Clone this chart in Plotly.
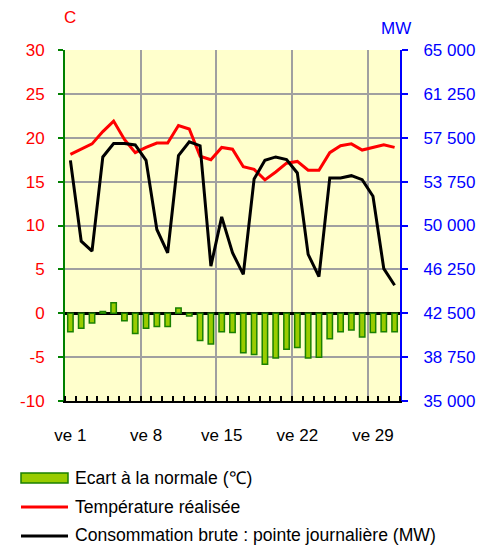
import plotly.graph_objects as go

# ---------------- data ----------------
days = list(range(1, 32))
ecart_normale = [-2.1, -1.7, -1.1, 0.2, 1.2, -0.85, -2.3, -1.7, -1.5, -1.5,
                 0.6, -0.3, -3.1, -3.5, -2.1, -2.2, -4.5, -4.7, -5.8, -5.1,
                 -4.1, -3.9, -5.1, -5.0, -2.9, -2.1, -1.9, -2.7, -2.2, -2.1, -2.1]
temperature = [18.1, 18.7, 19.3, 20.7, 21.9, 19.8, 18.3, 18.9, 19.4, 19.4,
               21.4, 21.0, 17.9, 17.5, 18.9, 18.7, 16.7, 16.4, 15.2, 16.1,
               17.1, 17.3, 16.3, 16.3, 18.3, 19.1, 19.3, 18.6, 18.9, 19.2, 18.9]
consommation = [55570, 48660, 47810, 55860, 57000, 57000, 56880, 55570, 49660, 47670,
                55970, 57160, 56820, 46530, 50740, 47670, 45820, 53980, 55570, 55860,
                55630, 54490, 47530, 45630, 54070, 54070, 54260, 53920, 52500, 46310, 44890]

x_tick_days = [1, 8, 15, 22, 29]
x_tick_labels = ["ve 1", "ve 8", "ve 15", "ve 22", "ve 29"]
week_bounds = [7.5, 14.5, 21.5, 28.5]
temp_ticks = [-10, -5, 0, 5, 10, 15, 20, 25, 30]
temp_tick_labels = ["-10", "-5", "0", "5", "10", "15", "20", "25", "30"]
mw_ticks = [35000, 38750, 42500, 46250, 50000, 53750, 57500, 61250, 65000]
mw_tick_labels = ["35 000", "38 750", "42 500", "46 250", "50 000",
                  "53 750", "57 500", "61 250", "65 000"]
legend_labels = ["Ecart à la normale (℃)", "Température réalisée",
                 "Consommation brute : pointe journalière (MW)"]

FONT = "Liberation Sans, Arial, sans-serif"
FS = 17
FS_LEG = 17.6
GRID = "#a0a0a0"

fig = go.Figure()
fig.add_trace(go.Bar(
    x=days, y=ecart_normale, width=0.5, name=legend_labels[0],
    marker=dict(color="#99cc00", line=dict(color="#1a8000", width=1.5)),
    showlegend=False))
fig.add_trace(go.Scatter(
    x=days, y=temperature, mode="lines", name=legend_labels[1],
    line=dict(color="#ff0000", width=3), showlegend=False))
fig.add_trace(go.Scatter(
    x=days, y=consommation, mode="lines", name=legend_labels[2],
    line=dict(color="#000000", width=3), xaxis="x2", yaxis="y2",
    showlegend=False))

# the page body has an 8px margin, so the figure is made 8px smaller
OFF = 8
W, H = 491 - OFF, 545 - OFF
L, R, T, B = 65 - OFF, 91, 50 - OFF, 144
ph = H - T - B
pw = W - L - R


def px(xp):  # reference-page pixel -> paper x
    return (xp - OFF - L) / pw


def py(yp):  # reference-page pixel -> paper y
    return (H - B - (yp - OFF)) / ph


fig.update_layout(
    width=W, height=H,
    margin=dict(l=L, r=R, t=T, b=B, pad=0, autoexpand=False),
    paper_bgcolor="white", plot_bgcolor="#ffffcc",
    font=dict(family=FONT, size=FS, color="black"),
    bargap=0.5,
    xaxis=dict(
        range=[0.5, 31.5], tickmode="array", tickvals=x_tick_days,
        ticktext=x_tick_labels, ticks="", showgrid=False, zeroline=False,
        showline=True, linecolor="black", linewidth=2, automargin=False,
        ticklabelstandoff=18, tickfont=dict(size=FS, color="black"),
        minor=dict(tickmode="linear", tick0=0.5, dtick=1, ticks="inside",
                   ticklen=5, tickcolor="black", tickwidth=1.5, showgrid=False),
    ),
    xaxis2=dict(
        range=[0.5, 31.5], overlaying="x", anchor="y2", tickmode="array",
        tickvals=week_bounds, showticklabels=False, ticks="",
        showgrid=True, gridcolor=GRID, gridwidth=1.5, zeroline=False,
        showline=False, automargin=False,
    ),
    yaxis=dict(
        range=[-10, 30], tickmode="array", tickvals=temp_ticks,
        ticktext=temp_tick_labels, ticks="outside", ticklen=5,
        tickcolor="#008000", tickwidth=1.5, automargin=False,
        showline=True, linecolor="#008000", linewidth=2,
        showgrid=True, gridcolor=GRID, gridwidth=1.5,
        zeroline=True, zerolinecolor="black", zerolinewidth=2.5,
        ticklabelstandoff=10, tickfont=dict(size=FS, color="#ff0000"),
    ),
    yaxis2=dict(
        range=[35000, 65000], overlaying="y", side="right", anchor="x2",
        tickmode="array", tickvals=mw_ticks, ticktext=mw_tick_labels,
        ticks="outside", ticklen=6, tickcolor="#0000ff", tickwidth=1.5,
        showline=True, linecolor="#0000ff", linewidth=2, automargin=False,
        showgrid=False, zeroline=False,
        ticklabelstandoff=12, tickfont=dict(size=FS, color="#0000ff"),
    ),
)

# axis titles
fig.add_annotation(x=px(70), y=py(18), xref="paper", yref="paper", text="C",
                   showarrow=False, xanchor="center", yanchor="middle",
                   font=dict(size=FS, color="#ff0000"))
fig.add_annotation(x=px(396), y=py(29), xref="paper", yref="paper", text="MW",
                   showarrow=False, xanchor="center", yanchor="middle",
                   font=dict(size=FS, color="#0000ff"))

# legend (drawn manually below the chart)
sym_x0, sym_x1 = px(21), px(68)
fig.add_shape(type="rect", xref="paper", yref="paper",
              x0=sym_x0, x1=sym_x1, y0=py(483), y1=py(473),
              fillcolor="#99cc00", line=dict(color="#1a8000", width=1.5))
fig.add_shape(type="line", xref="paper", yref="paper",
              x0=sym_x0, x1=sym_x1, y0=py(507), y1=py(507),
              line=dict(color="#ff0000", width=3))
fig.add_shape(type="line", xref="paper", yref="paper",
              x0=sym_x0, x1=sym_x1, y0=py(536), y1=py(536),
              line=dict(color="#000000", width=3))
for lbl, yy in zip(legend_labels, [478, 507, 535]):
    fig.add_annotation(x=px(73), y=py(yy), xref="paper", yref="paper",
                       text=lbl, showarrow=False, xanchor="left",
                       yanchor="middle", font=dict(size=FS_LEG, color="black"))

fig.write_html("out.html")
